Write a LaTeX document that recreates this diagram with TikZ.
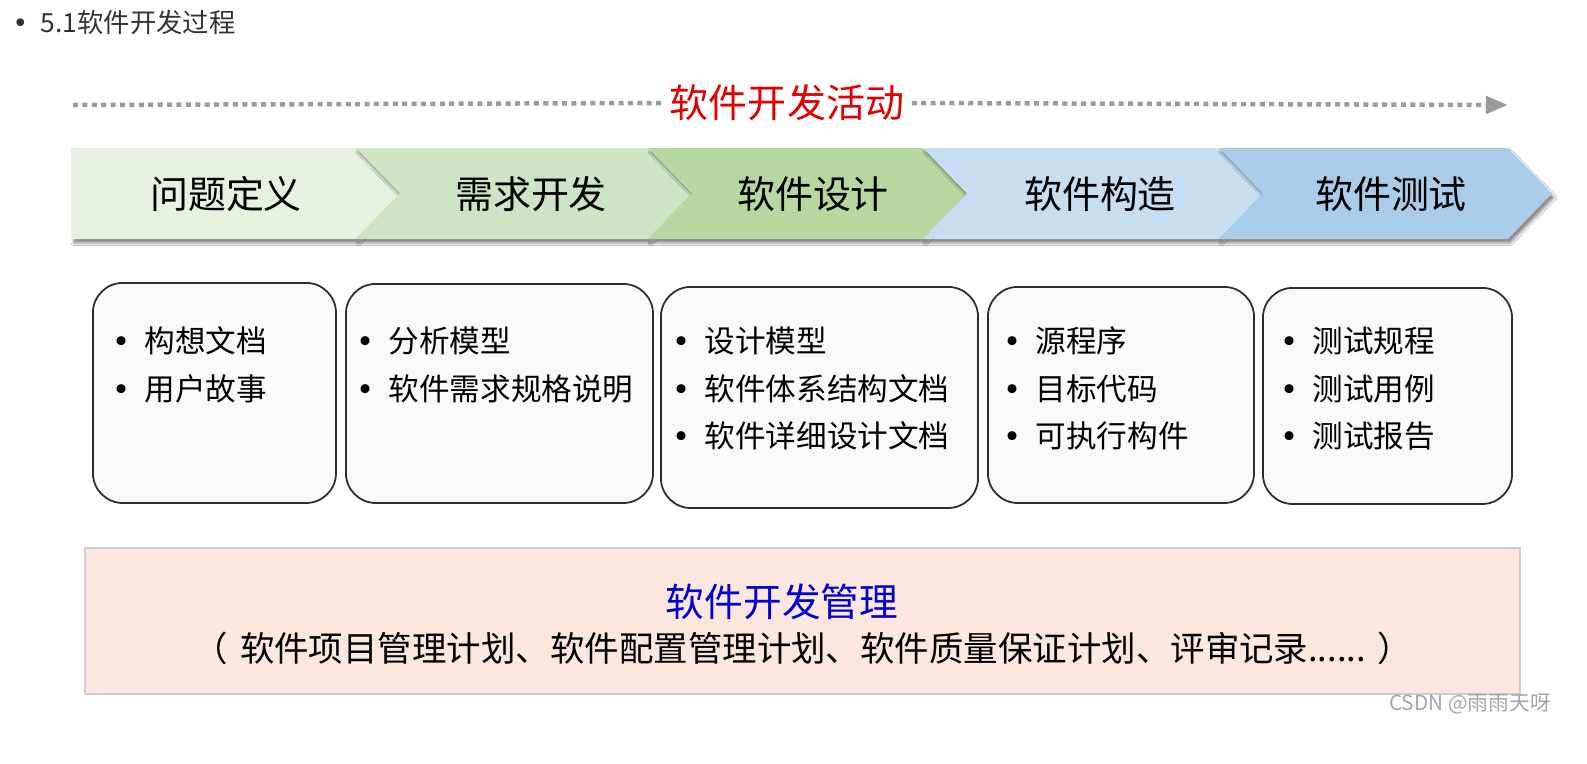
\documentclass[tikz,border=0pt]{standalone}
\usepackage{fontspec}
\setmainfont{Noto Sans CJK SC}
\newfontfamily\dotfont{DejaVu Sans}
\usepackage{xcolor}
\usepackage{tikz}
\usetikzlibrary{arrows.meta, positioning, calc, shadows.blur}
\definecolor{myred}{RGB}{225,0,0}
\definecolor{myblue}{RGB}{0,0,215}
\definecolor{mydark}{RGB}{45,45,45}
\definecolor{mytext}{RGB}{51,51,51}
\definecolor{mygray}{RGB}{155,155,155}
\definecolor{mylight}{RGB}{165,165,165}
\definecolor{boxfill}{RGB}{249,249,249}
\definecolor{mgmtfill}{RGB}{251,231,221}
\definecolor{mgmtline}{RGB}{205,205,205}
\definecolor{phaseA}{RGB}{230,241,224}
\definecolor{phaseB}{RGB}{206,228,196}
\definecolor{phaseC}{RGB}{183,215,161}
\definecolor{phaseD}{RGB}{199,222,241}
\definecolor{phaseE}{RGB}{170,204,233}
\newcommand{\bigdot}{{\dotfont •}}
\tikzset{
  chevron/.style={draw=none, blur shadow={shadow xshift=0.25mm, shadow yshift=-0.4mm,
    shadow blur radius=0.25mm, shadow blur steps=5, shadow opacity=45}},
  phasetxt/.style={font=\fontsize{10.8pt}{13pt}\selectfont, text=black, inner sep=0pt},
  docbox/.style={rectangle, draw=mydark, fill=boxfill, rounded corners=0.3cm,
    line width=0.5pt, anchor=north west, inner sep=0pt},
  item/.style={anchor=west, font=\fontsize{8.7pt}{10pt}\selectfont, text=black, inner sep=0pt},
  dotline/.style={line width=0.45mm, color=mygray, dash pattern=on 0.5mm off 0.44mm},
  mgmtbox/.style={rectangle, draw=mgmtline, fill=mgmtfill, line width=0.6pt,
    minimum width=14.35cm, minimum height=1.46cm, inner sep=0pt}
}
\begin{document}
\begin{tikzpicture}[x=0.01cm, y=-0.01cm,
  acttitle/.style={font=\fontsize{11.1pt}{13pt}\selectfont, text=myred, inner sep=0.07cm},
  mgmttitle/.style={font=\fontsize{11pt}{13pt}\selectfont, text=myblue, inner sep=0pt},
  mgmtsub/.style={font=\fontsize{9.8pt}{11pt}\selectfont, text=black, inner sep=0pt}
]
\useasboundingbox (0,0) rectangle (1587,763);
\fill[white] (0,0) rectangle (1587,763);

\node[anchor=west, font=\fontsize{7.5pt}{9pt}\selectfont, text=mytext, inner sep=0pt] (head) at (12,22)
  {\makebox[0.28cm][l]{\bigdot}5.1软件开发过程};

\coordinate (actL) at (73,105);
\coordinate (actR) at (1508,105);
\node[acttitle] (act) at (787,103) {软件开发活动};
\draw[dotline] (actL) -- (act.west);
\draw[dotline, -{Triangle[length=0.22cm, width=0.17cm]}] (act.east) -- (actR);

\foreach \i/\xl/\xr/\nd/\xt/\clr/\lbl in {1/71/356/0/226/phaseA/问题定义, 2/356/648/44/531/phaseB/需求开发,
  3/648/923/44/813/phaseC/软件设计, 4/923/1219/44/1100/phaseD/软件构造, 5/1219/1508/44/1391/phaseE/软件测试} {
  \path[chevron, fill=\clr] (\xl,148) -- (\xr,148) -- ({\xr+44},193.5) -- (\xr,239) -- (\xl,239)
    -- ({\xl+\nd},193.5) -- cycle;
  \node[phasetxt] (P\i) at (\xt,194) {\lbl};
}

\foreach \i/\xa/\ya/\w/\h in {1/92/282/2.43/2.20, 2/345/283/3.07/2.19, 3/660/286/3.17/2.21,
  4/987/286/2.66/2.16, 5/1262/287/2.49/2.16} {
  \node[docbox, minimum width=\w cm, minimum height=\h cm] (D\i) at (\xa,\ya) {};
}
\foreach \i/\x/\items in {1/112/{构想文档,用户故事}, 2/356/{分析模型,软件需求规格说明},
  3/672/{设计模型,软件体系结构文档,软件详细设计文档}, 4/1003/{源程序,目标代码,可执行构件},
  5/1280/{测试规程,测试用例,测试报告}} {
  \foreach \t [count=\j] in \items {
    \node[item] (I\i-\j) at (\x,{341+47.5*(\j-1)}) {\makebox[0.32cm][l]{\bigdot}\t};
  }
}

\node[mgmtbox] (mgmt) at (802.5,621) {};
\node[mgmttitle] (mtitle) at (782,602) {软件开发管理};
\node[mgmtsub] (msub) at (803,648)
  {（\hspace{0.12cm}软件项目管理计划、软件配置管理计划、软件质量保证计划、评审记录......\hspace{0.12cm}）};

\node[font=\fontsize{5.9pt}{7pt}\selectfont, text=mylight, inner sep=0pt] (mark) at (1470,704) {CSDN @雨雨天呀};
\end{tikzpicture}
\end{document}
